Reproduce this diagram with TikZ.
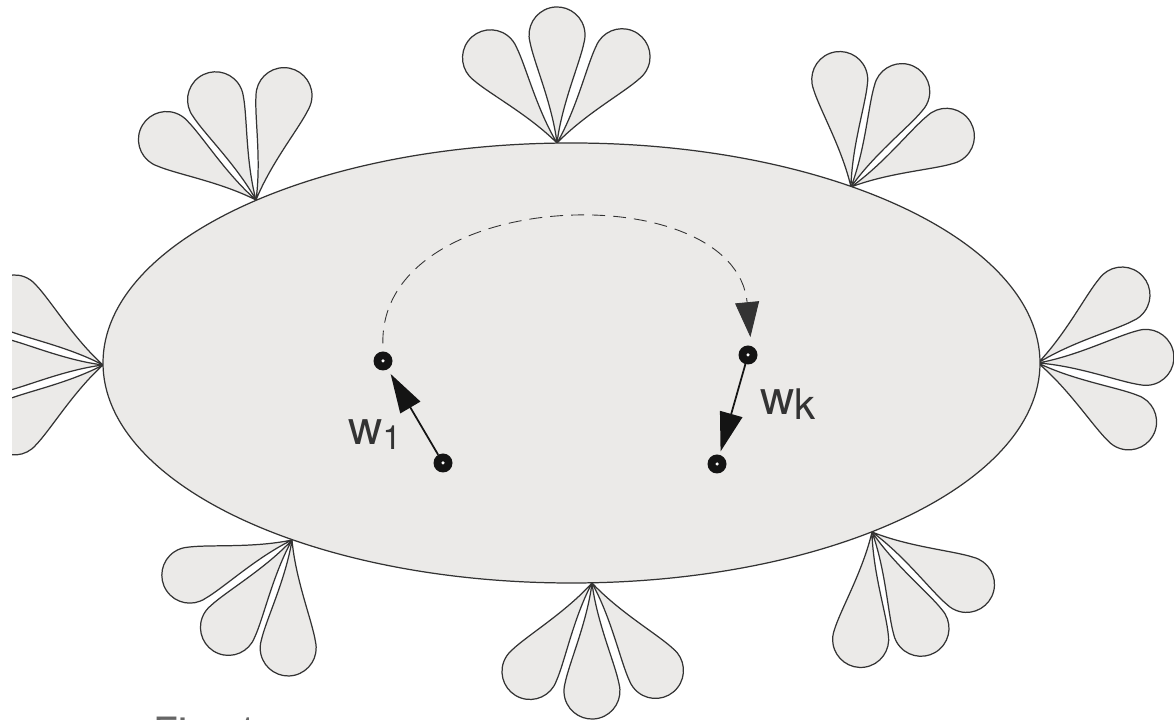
\documentclass[tikz,border=0pt]{standalone}
\usepackage{fontspec}
\setmainfont{TeX Gyre Heros}
\usetikzlibrary{arrows.meta}
\definecolor{leafgray}{HTML}{EBEAE8}
\definecolor{inkgray}{HTML}{333333}

\begin{document}
\begin{tikzpicture}[
    x=0.02cm,y=0.02cm,line join=round,
    petal/.pic={
        \filldraw[fill=leafgray,draw=inkgray,line width=0.7pt]
            (0,0) .. controls (40,5) and (80,23) .. (100.8,27)
            arc[start angle=105,end angle=-105,radius=28]
            .. controls (80,-23) and (40,-5) .. cycle;},
    dot/.style={circle,fill=black!92,minimum size=0.38cm,inner sep=0pt,outer sep=0pt,
        path picture={\fill[white] (path picture bounding box.center) circle (0.035cm);}},
    vec/.style={-{Triangle[length=0.78cm,width=0.46cm]},line width=1pt,black!92},
    wtext/.style={anchor=base west,inner sep=0pt,text=inkgray,
        font=\fontsize{27}{30}\selectfont}]
    \useasboundingbox (0,0) rectangle (1174,720);
    \begin{scope}
        \clip (12,0) rectangle (1174,720);
        \foreach \px/\py/\a/\b/\c in {
            557/577/128/90/53, 256/520/146/112/75, 851/533/96/62/28,
            103/355/145/180/215, 1038/357/39/3/-33, 292/180/199/234/268,
            592/137/235/270/306, 872/188/264/297/331}
            \foreach \ang in {\a,\b,\c}
                \pic[rotate=\ang] at (\px,\py) {petal};
    \end{scope}
    \filldraw[fill=leafgray,draw=inkgray,line width=0.7pt]
        (571.5,357) ellipse [x radius=468.5,y radius=220];
    \node[dot] (p1) at (383,359) {};
    \node[dot] (q1) at (443,257) {};
    \node[dot] (p2) at (748,365) {};
    \node[dot] (q2) at (717,256) {};
    \draw[inkgray,line width=0.5pt,dash pattern=on 0.26cm off 0.16cm,
        shorten <=0.16cm,shorten >=0.18cm,
        -{Triangle[length=0.7cm,width=0.48cm]}]
        (p1.north) .. controls (380,535) and (735,545) .. (p2.70);
    \draw[vec,shorten >=0.11cm] (q1) -- (p1);
    \draw[vec,shorten >=0.07cm] (p2) -- (q2);
    \node[wtext] (w1) at (348,275)
        {w\raisebox{-0.1cm}{\fontsize{19}{21}\selectfont 1}};
    \node[wtext] (wk) at (760,305)
        {w\raisebox{-0.1cm}{\fontsize{24}{26}\selectfont k}};
    \node[anchor=base west,inner sep=0pt,text=black!60,
        font=\fontsize{23}{26}\selectfont] (fig) at (153,-27) {Fig. 1};
\end{tikzpicture}
\end{document}
